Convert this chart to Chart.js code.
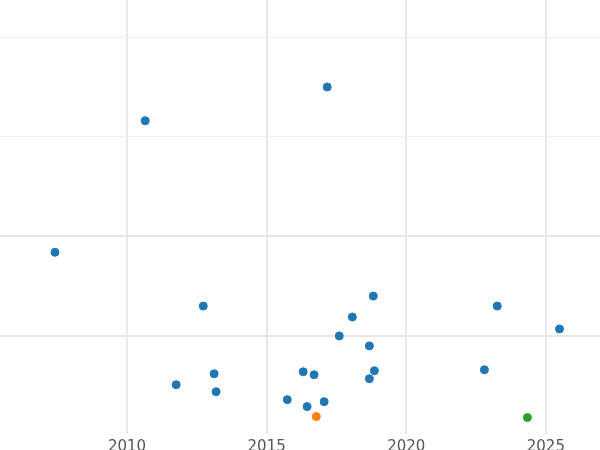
<!DOCTYPE html>
<html><head><meta charset="utf-8">
<script src="https://cdn.jsdelivr.net/npm/chart.js@4"></script>
<style>html,body{margin:0;padding:0;background:#fff;overflow:hidden}#w{width:610px;height:465px;margin-left:-5px;margin-top:-5px}</style>
</head><body><div id="w"><canvas id="c"></canvas></div>
<script>
const blueX=[2007.42,2010.65,2017.17,2012.73,2011.76,2013.12,2013.19,2015.74,2016.31,2016.70,2016.45,2017.06,2017.60,2018.07,2018.82,2018.68,2018.86,2018.68,2022.80,2023.26,2025.49];
const blueY=[0.84,2.16,2.50,0.30,-0.49,-0.38,-0.56,-0.64,-0.36,-0.39,-0.71,-0.66,0.00,0.19,0.40,-0.10,-0.35,-0.43,-0.34,0.30,0.07];
const orangeX=[2016.78], orangeY=[-0.81];
const greenX=[2024.34], greenY=[-0.82];
const xTicks=[2010,2015,2020,2025];
const yTicks=[0,1,2,3];
const pts=(xs,ys)=>xs.map((x,i)=>({x,y:ys[i]}));
const ds=(xs,ys,c)=>({data:pts(xs,ys),backgroundColor:c,borderColor:c,pointRadius:4,pointHoverRadius:4});
new Chart(document.getElementById('c'),{type:'scatter',
data:{datasets:[ds(blueX,blueY,'#1f77b4'),ds(orangeX,orangeY,'#ff7f0e'),ds(greenX,greenY,'#2ca02c')]},
options:{animation:false,responsive:true,maintainAspectRatio:false,layout:{padding:0},
plugins:{legend:{display:false},tooltip:{enabled:false}},
scales:{
x:{type:'linear',min:2005.45,max:2026.94,afterBuildTicks:s=>{s.ticks=xTicks.map(v=>({value:v}))},
 border:{display:false},grid:{color:'#e8e8e8',lineWidth:2,drawTicks:false},
 ticks:{color:'#555',font:{family:'DejaVu Sans',size:15},padding:4,callback:v=>String(v)}},
y:{type:'linear',min:-0.985,max:3.374,afterBuildTicks:s=>{s.ticks=yTicks.map(v=>({value:v}))},
 border:{display:false},grid:{color:c=>c.tick&&c.tick.value<=1?'#e6e6e6':'#f0f0f0',lineWidth:c=>c.tick&&c.tick.value<=1?2:1,drawTicks:false},
 ticks:{display:false}}
}}});
</script></body></html>
